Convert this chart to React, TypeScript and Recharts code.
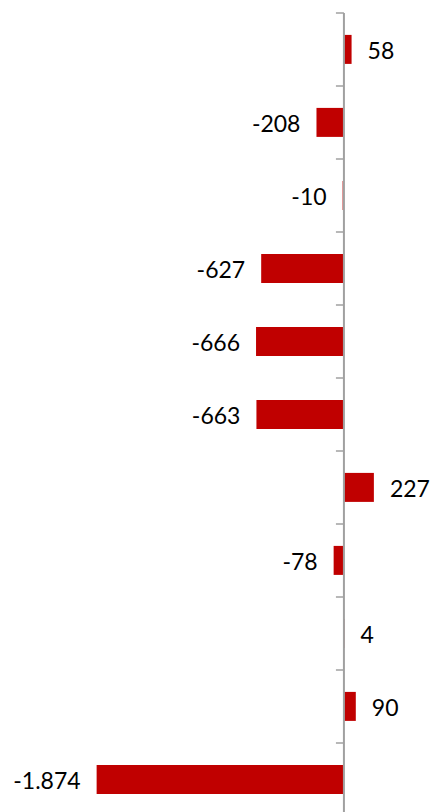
import { BarChart, Bar, XAxis, YAxis, ReferenceLine, LabelList } from 'recharts'

const categories = ['c1', 'c2', 'c3', 'c4', 'c5', 'c6', 'c7', 'c8', 'c9', 'c10', 'c11']
const values = [58, -208, -10, -627, -666, -663, 227, -78, 4, 90, -1874]

const data = categories.map((name, i) => ({ name, value: values[i] }))

const W = 433
const H = 816
const MARGIN = { top: 13, right: 0, bottom: 0, left: 79 }
const DOMAIN: [number, number] = [-2000, 675]
const AXIS = '#a0a0a0'

const plotW = W - MARGIN.left - 1 - MARGIN.right
const zeroX = MARGIN.left + 1 + ((0 - DOMAIN[0]) / (DOMAIN[1] - DOMAIN[0])) * plotW
const band = (H - MARGIN.top - MARGIN.bottom) / categories.length

function fmt(v: number) {
  const s = Math.abs(v).toString().replace(/\B(?=(\d{3})+(?!\d))/g, '.')
  return (v < 0 ? '-' : '') + s
}

// Excel-style category ticks sit on the band edges along the zero line
function renderEdgeTick(props: any) {
  const y = props.y - band / 2
  return (
    <g key={`tick-${props.index}`}>
      <line x1={zeroX - 8} x2={zeroX} y1={y} y2={y} stroke={AXIS} strokeWidth={1.5} />
    </g>
  )
}

function ValueLabel(props: any) {
  const { x, y, width, height, value } = props
  const left = Math.min(x, x + width)
  const right = Math.max(x, x + width)
  const cy = y + height / 2 + 1
  const neg = value < 0
  return (
    <text
      x={neg ? left - 16 : right + 16}
      y={cy}
      textAnchor={neg ? 'end' : 'start'}
      dominantBaseline="central"
      fill="#000"
      fontSize={23}
      fontFamily="Lato, 'Open Sans', sans-serif"
    >
      {fmt(value)}
    </text>
  )
}

export default function App() {
  return (
    <div style={{ position: 'absolute', left: 0, top: 0, width: W, height: 812, overflow: 'hidden', background: '#fff' }}>
      <BarChart width={W} height={H} data={data} layout="vertical" margin={MARGIN} barCategoryGap="30%">
        <XAxis type="number" domain={DOMAIN} hide allowDataOverflow />
        <YAxis type="category" dataKey="name" width={1} axisLine={false} tickLine={false} tick={renderEdgeTick} interval={0} />
        <ReferenceLine x={0} stroke={AXIS} strokeWidth={2} />
        <Bar dataKey="value" fill="#c00000" isAnimationActive={false}>
          <LabelList dataKey="value" content={<ValueLabel />} />
        </Bar>
      </BarChart>
    </div>
  )
}
